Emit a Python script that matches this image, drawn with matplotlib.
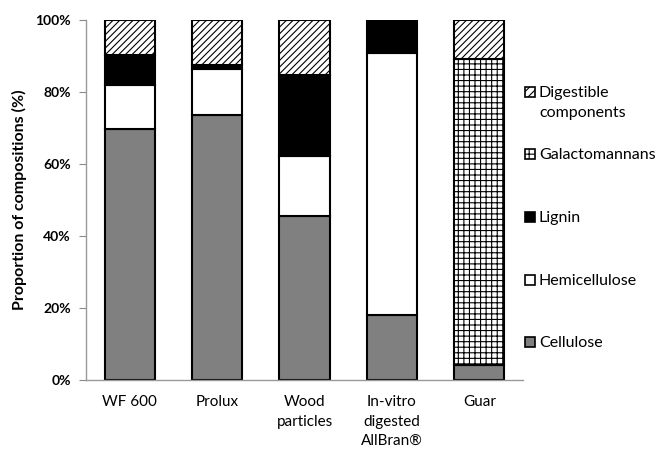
import matplotlib
matplotlib.use("Agg")
import matplotlib.pyplot as plt
from matplotlib.patches import Rectangle
import numpy as np

plt.rcParams['font.family'] = ['Lato', 'DejaVu Sans']
plt.rcParams['hatch.linewidth'] = 0.8

categories = ["WF 600", "Prolux", "Wood\nparticles", "In-vitro\ndigested\nAllBran®", "Guar"]
cellulose = [69.7, 73.6, 45.6, 18.0, 4.2]
hemicellulose = [12.3, 12.8, 16.6, 72.7, 0.0]
lignin = [8.3, 1.1, 22.5, 9.3, 0.0]
galactomannans = [0.0, 0.0, 0.0, 0.0, 85.1]
digestible = [9.7, 12.5, 15.3, 0.0, 10.7]

series = [
    ("Cellulose", cellulose, "#808080", None),
    ("Hemicellulose", hemicellulose, "white", None),
    ("Lignin", lignin, "black", None),
    ("Galactomannans", galactomannans, "white", "+++"),
    ("Digestible\ncomponents", digestible, "white", "/////"),
]

W, H = 659, 449
fig = plt.figure(figsize=(W / 100, H / 100), dpi=100)
ax = fig.add_axes([86 / W, 69 / H, 437 / W, 360 / H])

x = np.arange(len(categories))
bottom = np.zeros(len(categories))
for name, vals, color, hatch in series:
    vals = np.array(vals)
    bars = ax.bar(x, vals, 0.575, bottom=bottom, color=color, edgecolor="black",
                  linewidth=1.5, hatch=hatch, label=name)
    for b, v in zip(bars, vals):
        if v == 0:
            b.set_visible(False)
    bottom += vals

ax.set_xlim(-0.5, len(categories) - 0.5)
ax.set_ylim(0, 100)
ax.set_yticks(np.arange(0, 101, 20))
ax.set_yticklabels([f"{v}%" for v in range(0, 101, 20)], fontsize=10, fontweight="bold")
ax.set_xticks(x)
ax.set_xticklabels(categories, fontsize=11, linespacing=1.5)
ax.tick_params(axis="x", length=0, pad=11)
ax.tick_params(axis="y", length=5, color="#888888", pad=6)
for s in ["top", "right"]:
    ax.spines[s].set_visible(False)
for s in ["left", "bottom"]:
    ax.spines[s].set_color("#999999")
    ax.spines[s].set_linewidth(1.0)
ax.set_ylabel("Proportion of compositions (%)", fontsize=11.5, fontweight="bold", labelpad=6)

# legend (reversed order, positioned like the original)
legend_y = [92, 154, 217, 280, 342]
for (name, vals, color, hatch), ly in zip(series[::-1], legend_y):
    fig.patches.append(Rectangle((525 / W, 1 - (ly + 5) / H), 10 / W, 10 / H,
                                 transform=fig.transFigure, facecolor=color,
                                 edgecolor="black", linewidth=1.2,
                                 hatch=("////" if hatch == "/////" else ("++" if hatch else None))))
    fig.text(539 / W, 1 - (ly - 6) / H, name, fontsize=11.5, va="top", ha="left",
             linespacing=1.55)

plt.savefig("out.png", dpi=100)
